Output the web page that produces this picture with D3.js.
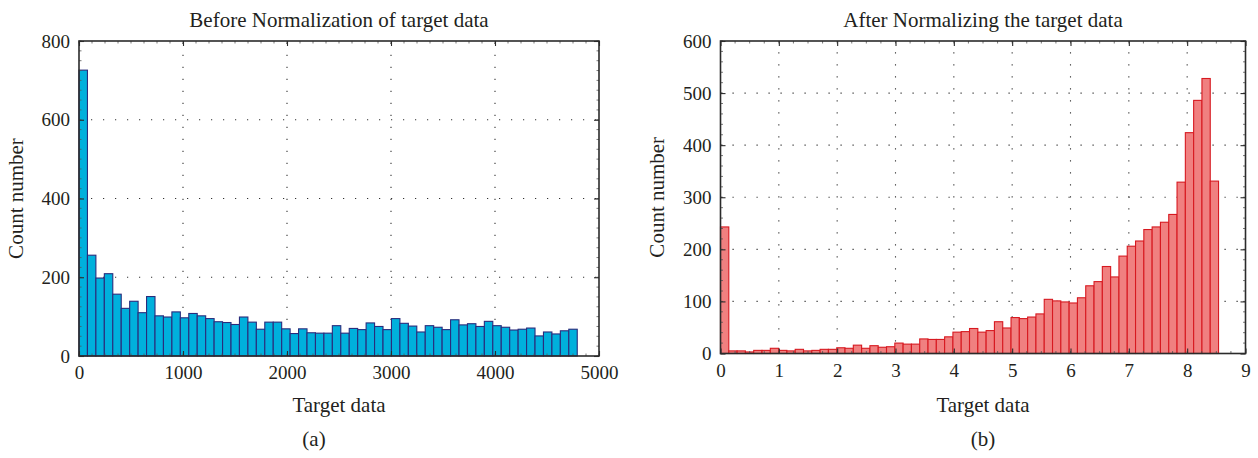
<!DOCTYPE html>
<html>
<head>
<meta charset="utf-8">
<script src="https://cdn.jsdelivr.net/npm/d3@7"></script>
<style>
  html, body { margin: 0; padding: 0; background: #fff; }
  svg { display: block; }
  svg text { font-family: 'Liberation Serif', 'DejaVu Serif', serif !important; fill: #231f20; }
</style>
</head>
<body>
<svg id="chart" width="1258" height="458"></svg>
<script>
// ---- Data ----
// (a) Before normalization: 59 histogram bins from 0 to ~4790
const beforeBinWidth = 81.2;
const beforeCounts = [726,256,198,209,157,121,139,110,151,102,99,112,97,108,102,95,87,85,80,99,
  86,68,86,86,69,57,69,59,58,58,77,58,70,67,84,75,67,95,83,76,
  61,77,73,67,92,79,82,75,88,77,73,66,68,71,51,61,56,64,68];
const beforeXTicks = [0,1000,2000,3000,4000,5000];
const beforeYTicks = [0,200,400,600,800];

// (b) After normalization: 60 histogram bins from 0 to ~8.54
const afterBinWidth = 0.1423;
const afterCounts = [243,5,5,3,6,6,10,6,5,8,5,6,8,8,11,10,16,10,15,12,
  13,20,18,18,28,27,27,32,41,42,48,41,44,61,49,69,67,70,76,104,
  101,99,97,107,130,138,167,147,187,206,216,238,243,252,267,329,424,486,528,331];
const afterXTicks = [0,1,2,3,4,5,6,7,8,9];
const afterYTicks = [0,100,200,300,400,500,600];

const titles = ["Before Normalization of target data", "After Normalizing the target data"];
const xLabel = "Target data";
const yLabel = "Count number";
const subLabels = ["(a)", "(b)"];

const svg = d3.select("#chart");

function panel(cfg) {
  const { left, right, top, bottom, xDomain, yDomain, counts, binWidth, xTicks, yTicks,
          xMinorStep, yMinorStep, fill, stroke, title, sub, subX, yLabelX } = cfg;
  const x = d3.scaleLinear().domain(xDomain).range([left, right]);
  const y = d3.scaleLinear().domain(yDomain).range([bottom, top]);
  const g = svg.append("g");

  // grid (dotted)
  const grid = g.append("g").attr("stroke", "#333").attr("stroke-width", 1.1)
    .attr("stroke-dasharray", "1.2,10.8");
  xTicks.filter(t => t > xDomain[0] && t < xDomain[1]).forEach(t => {
    grid.append("line").attr("x1", x(t)).attr("x2", x(t)).attr("y1", bottom).attr("y2", top);
  });
  yTicks.filter(t => t > yDomain[0] && t < yDomain[1]).forEach(t => {
    grid.append("line").attr("x1", left).attr("x2", right).attr("y1", y(t)).attr("y2", y(t));
  });

  // bars
  g.append("g").selectAll("rect").data(counts).join("rect")
    .attr("x", (d, i) => x(i * binWidth))
    .attr("width", (d, i) => x((i + 1) * binWidth) - x(i * binWidth))
    .attr("y", d => y(d))
    .attr("height", d => y(0) - y(d))
    .attr("fill", fill)
    .attr("stroke", stroke)
    .attr("stroke-width", 1.1);

  // axes (box with inward ticks on all sides)
  const axB = d3.axisBottom(x).tickValues(xTicks).tickSize(-5).tickFormat(d3.format("d")).tickPadding(10);
  const axT = d3.axisTop(x).tickValues(xTicks).tickSize(-5).tickFormat("");
  const axL = d3.axisLeft(y).tickValues(yTicks).tickSize(-5).tickFormat(d3.format("d")).tickPadding(9);
  const axR = d3.axisRight(y).tickValues(yTicks).tickSize(-5).tickFormat("");

  // minor ticks
  const minorX = d3.range(xDomain[0], xDomain[1] + 1e-9, xMinorStep);
  const minorY = d3.range(yDomain[0], yDomain[1] + 1e-9, yMinorStep);
  const minor = g.append("g").attr("stroke", "#555").attr("stroke-width", 0.8);
  minorX.forEach(t => {
    minor.append("line").attr("x1", x(t)).attr("x2", x(t)).attr("y1", bottom).attr("y2", bottom - 2.5);
    minor.append("line").attr("x1", x(t)).attr("x2", x(t)).attr("y1", top).attr("y2", top + 2.5);
  });
  minorY.forEach(t => {
    minor.append("line").attr("x1", left).attr("x2", left + 2.5).attr("y1", y(t)).attr("y2", y(t));
    minor.append("line").attr("x1", right).attr("x2", right - 2.5).attr("y1", y(t)).attr("y2", y(t));
  });

  const styleAxis = sel => {
    sel.attr("font-family", null).attr("font-size", null);
    sel.select(".domain").remove();
    sel.selectAll(".tick line").attr("stroke", "#2b2b2b").attr("stroke-width", 1.1);
    sel.selectAll(".tick text").attr("font-size", 19).attr("fill", "#231f20");
  };
  g.append("g").attr("transform", `translate(0,${bottom})`).call(axB).call(styleAxis);
  g.append("g").attr("transform", `translate(0,${top})`).call(axT).call(styleAxis);
  g.append("g").attr("transform", `translate(${left},0)`).call(axL).call(styleAxis);
  g.append("g").attr("transform", `translate(${right},0)`).call(axR).call(styleAxis);
  g.append("rect").attr("x", left).attr("y", top).attr("width", right - left).attr("height", bottom - top)
    .attr("fill", "none").attr("stroke", "#2b2b2b").attr("stroke-width", 1.6);

  const cx = (left + right) / 2;
  g.append("text").attr("x", cx).attr("y", 27).attr("text-anchor", "middle")
    .attr("font-size", 21).text(title);
  g.append("text").attr("x", cx).attr("y", 412).attr("text-anchor", "middle")
    .attr("font-size", 21).text(xLabel);
  g.append("text").attr("transform", `translate(${yLabelX},${(top + bottom) / 2}) rotate(-90)`)
    .attr("text-anchor", "middle").attr("font-size", 21).text(yLabel);
  g.append("text").attr("x", subX).attr("y", 446).attr("text-anchor", "middle")
    .attr("font-size", 21).text(sub);
}

panel({ left: 79, right: 599, top: 41, bottom: 356, xDomain: [0, 5000], yDomain: [0, 800],
  counts: beforeCounts, binWidth: beforeBinWidth, xTicks: beforeXTicks, yTicks: beforeYTicks,
  xMinorStep: 125, yMinorStep: 25, fill: "#00b0dc", stroke: "#2a2c7c",
  title: titles[0], sub: subLabels[0], subX: 314, yLabelX: 23 });

panel({ left: 720.5, right: 1245.5, top: 41, bottom: 353.5, xDomain: [0, 9], yDomain: [0, 600],
  counts: afterCounts, binWidth: afterBinWidth, xTicks: afterXTicks, yTicks: afterYTicks,
  xMinorStep: 0.25, yMinorStep: 20, fill: "#f08080", stroke: "#d71920",
  title: titles[1], sub: subLabels[1], subX: 983, yLabelX: 664 });
</script>
</body>
</html>
